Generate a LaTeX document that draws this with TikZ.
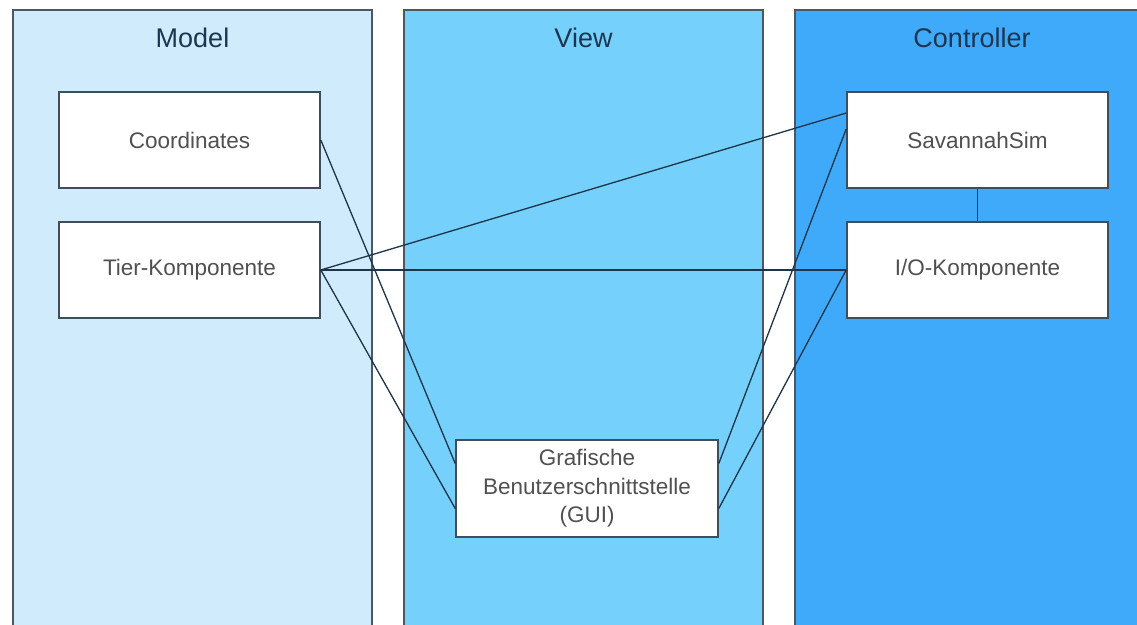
\documentclass[tikz,border=0pt]{standalone}
\usepackage{fontspec}
\setmainfont{Liberation Sans}
\begin{document}
\begin{tikzpicture}[x=1pt,y=-1pt,
  panelline/.style={draw=panelborder,line width=1.6pt},
  title/.style={font=\fontsize{27}{32}\selectfont,text=titletext},
  compbox/.style={draw=boxborder,line width=1.6pt,fill=white,
    minimum width=261pt,minimum height=96pt,inner sep=0pt,
    align=center,text=boxtext,font=\fontsize{22.5}{28.5}\selectfont},
  link/.style={draw=linkcolor,line width=1.3pt}]
\definecolor{modelfill}{HTML}{D0ECFC}
\definecolor{viewfill}{HTML}{75D0FC}
\definecolor{ctrlfill}{HTML}{40AAFA}
\definecolor{panelborder}{HTML}{4A5866}
\definecolor{boxborder}{HTML}{3E4E5C}
\definecolor{linkcolor}{HTML}{1E3448}
\definecolor{titletext}{HTML}{1C3550}
\definecolor{boxtext}{HTML}{505050}

\useasboundingbox (0,0) rectangle (1137,624);
\clip (0,0) rectangle (1137,624);

% layer columns
\fill[modelfill] (13,10) rectangle (372,640);
\draw[panelline] (13,640) -- (13,10) -- (372,10) -- (372,640);
\fill[viewfill] (404,10) rectangle (763,640);
\draw[panelline] (404,640) -- (404,10) -- (763,10) -- (763,640);
\fill[ctrlfill] (795,10) rectangle (1150,640);
\draw[panelline] (795,640) -- (795,10) -- (1150,10);

\node[title] (tmodel) at (192.5,38) {Model};
\node[title] (tview) at (583.5,38) {View};
\node[title] (tctrl) at (972,38) {Controller};

% components
\node[compbox] (coord) at (189.5,140) {Coordinates};
\node[compbox] (tier) at (189.5,270) {Tier-Komponente};
\node[compbox] (sav) at (977.5,140) {SavannahSim};
\node[compbox] (io) at (977.5,270) {I/O-Komponente};
\node[compbox,minimum width=262pt,minimum height=97pt] (gui) at (587,488.5)
  {Grafische\\Benutzerschnittstelle\\(GUI)};

% attachment points on the box sides
\coordinate (guiLup) at ([yshift=25pt]gui.west);
\coordinate (guiLlo) at ([yshift=-20pt]gui.west);
\coordinate (guiRup) at ([yshift=25pt]gui.east);
\coordinate (guiRlo) at ([yshift=-20pt]gui.east);
\coordinate (savA) at ([yshift=27pt]sav.west);
\coordinate (savB) at ([yshift=11pt]sav.west);

% connections
\draw[link] (coord.east) -- (guiLup);
\draw[link] (tier.east) -- (savA);
\draw[link] (tier.east) -- (io.west);
\draw[link] (tier.east) -- (guiLlo);
\draw[link] (guiRup) -- (savB);
\draw[link] (guiRlo) -- (io.west);
\draw[link] (sav.south) -- (io.north);
\end{tikzpicture}
\end{document}
